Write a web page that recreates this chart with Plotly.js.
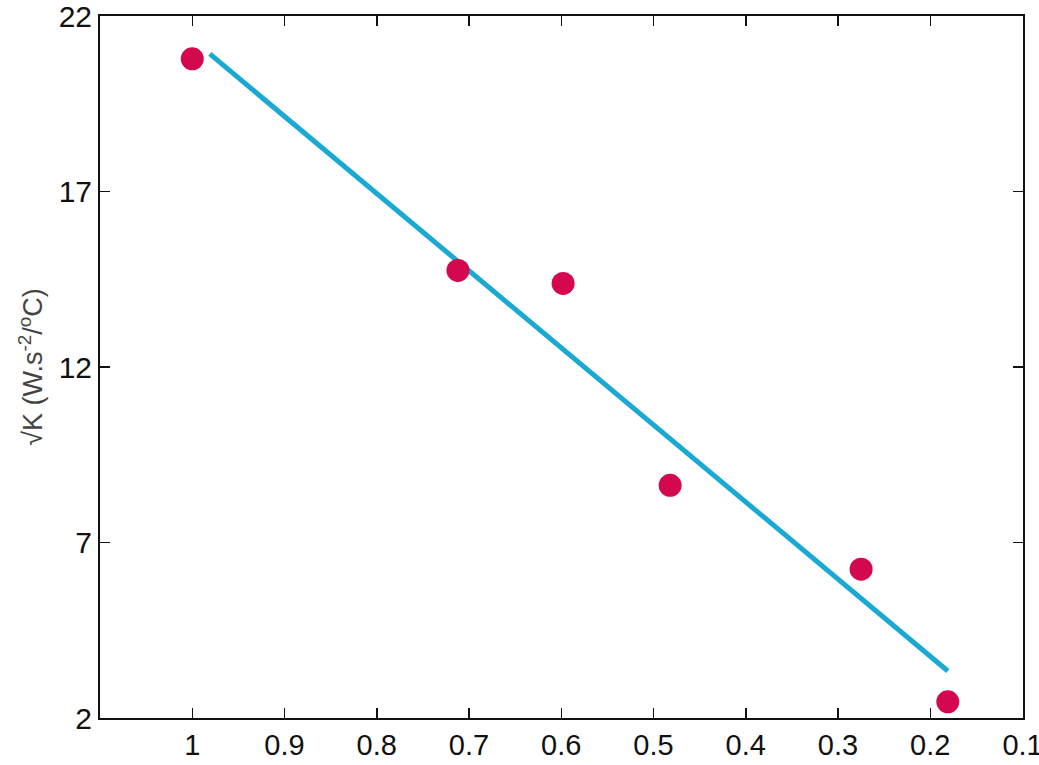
<!DOCTYPE html>
<html>
<head>
<meta charset="utf-8">
<script src="https://cdn.plot.ly/plotly-3.0.1.min.js"></script>
<style>html,body{margin:0;padding:0;background:#fff;}#chart{width:1039px;height:765px;}</style>
</head>
<body>
<div id="chart"></div>
<script>
// Measured points
const xPoints = [1.0, 0.712, 0.598, 0.482, 0.275, 0.181];
const yPoints = [20.78, 14.75, 14.38, 8.63, 6.24, 2.46];
// Fitted line endpoints
const xFit = [0.981, 0.181];
const yFit = [20.92, 3.34];
// Tick values
const xTicks = [1, 0.9, 0.8, 0.7, 0.6, 0.5, 0.4, 0.3, 0.2, 0.1];
const xTickLabels = ['1', '0.9', '0.8', '0.7', '0.6', '0.5', '0.4', '0.3', '0.2', '0.1'];
const yTicks = [2, 7, 12, 17, 22];

const traces = [
  {
    x: xFit, y: yFit, mode: 'lines', type: 'scatter',
    line: {color: '#19A9D2', width: 5}, hoverinfo: 'skip', showlegend: false
  },
  {
    x: xPoints, y: yPoints, mode: 'markers', type: 'scatter',
    marker: {color: '#D4084E', size: 23, line: {width: 0}}, showlegend: false
  }
];

const layout = {
  width: 1039, height: 765,
  margin: {l: 100, r: 16, t: 16, b: 47},
  paper_bgcolor: '#ffffff', plot_bgcolor: '#ffffff',
  font: {family: 'Liberation Sans, Arial, sans-serif', color: '#111'},
  showlegend: false,
  xaxis: {
    range: [1.1, 0.0995], autorange: false,
    tickvals: xTicks, ticktext: xTickLabels,
    ticks: 'inside', ticklen: 10, tickwidth: 1.5, tickcolor: '#111',
    showline: true, linecolor: '#111', linewidth: 2, mirror: 'ticks',
    showgrid: false, zeroline: false, ticklabeloverflow: 'allow',
    tickfont: {size: 29, color: '#111'}
  },
  yaxis: {
    range: [2, 22], autorange: false,
    tickvals: yTicks,
    ticks: 'inside', ticklen: 10, tickwidth: 1.5, tickcolor: '#111',
    showline: true, linecolor: '#111', linewidth: 2, mirror: 'ticks',
    showgrid: false, zeroline: false, ticklabeloverflow: 'allow',
    tickfont: {size: 30, color: '#111'},
    title: {text: '√K (W.s<sup>-2</sup>/<sup>o</sup>C)', font: {size: 27, color: '#444'}, standoff: 8}
  }
};

Plotly.newPlot('chart', traces, layout, {displayModeBar: false, staticPlot: true});
</script>
</body>
</html>
